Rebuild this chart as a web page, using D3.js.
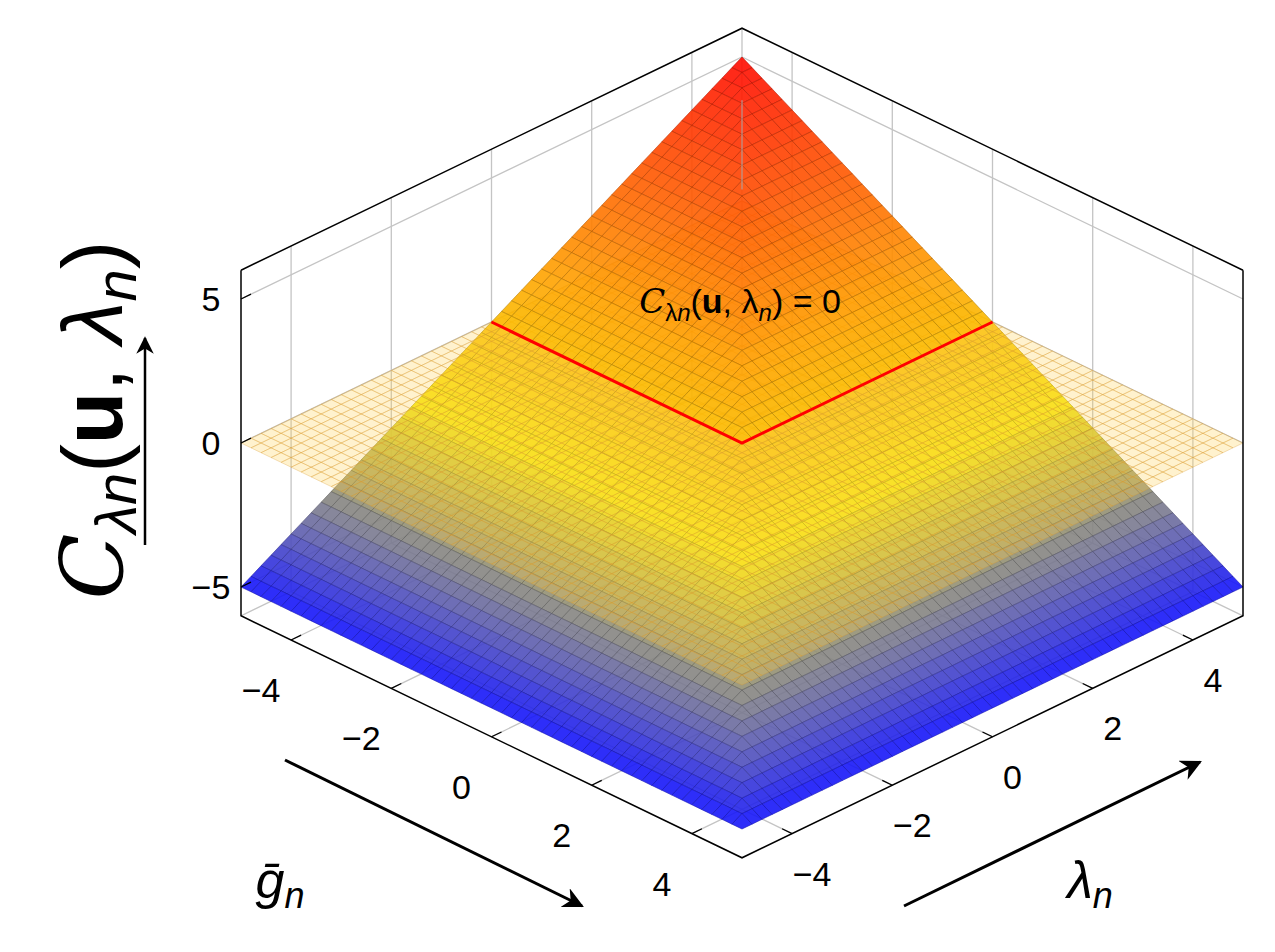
<!DOCTYPE html>
<html><head><meta charset="utf-8">
<script src="https://cdn.jsdelivr.net/npm/d3@7"></script>
<style>body{margin:0;background:#fff}text{font-family:"Liberation Sans",Arial,sans-serif}</style>
</head><body><svg id="c" width="1275" height="952"></svg>
<script>
// data
const gTicks = [-4, -2, 0, 2, 4]
const lamTicks = [-4, -2, 0, 2, 4]
const zTicks = [-5, 0, 5]
const colorStops = [-5, -3.5, -1.5, 1, 5]
const colorValues = ['#1010ff', '#7a7a90', '#f6e600', '#ffa000', '#ff0800']
const N = 50
const surf = (g, l) => Math.min(l, -g)

const svg = d3.select('#c')
const cx = 742, cy = 443
const sh = d3.scaleLinear().domain([0, 1]).range([0, 50.1])
const sv = d3.scaleLinear().domain([0, 1]).range([0, 24.2])
const sz = d3.scaleLinear().domain([-5, 5]).range([144, -144])
const P = (g, l, z) => [cx + sh(g + l), cy + sv(g - l) + sz(z)]
const color = d3.scaleLinear().domain(colorStops).range(colorValues)
const line = d3.line()

// back walls + floor
const walls = svg.append('g').attr('stroke', '#c4c4c4').attr('fill', 'none').attr('stroke-width', 1.3)
lamTicks.forEach(l => {
  walls.append('path').attr('d', line([P(-5, l, -6), P(-5, l, 6)]))
  walls.append('path').attr('d', line([P(-5, l, -6), P(5, l, -6)]))
})
gTicks.forEach(g => {
  walls.append('path').attr('d', line([P(g, 5, -6), P(g, 5, 6)]))
  walls.append('path').attr('d', line([P(g, -5, -6), P(g, 5, -6)]))
})
zTicks.forEach(z => {
  walls.append('path').attr('d', line([P(-5, -5, z), P(-5, 5, z), P(5, 5, z)]))
})
walls.append('path').attr('d', line([P(-5, 5, -6), P(-5, 5, 6)]))
walls.append('path').attr('d', line([P(-5, -5, -6), P(-5, 5, -6), P(5, 5, -6)]))

// quads: surface and z=0 plane, painter sorted
const step = 10 / N
const quads = []
for (let i = 0; i < N; i++) for (let j = 0; j < N; j++) {
  const g0 = -5 + i * step, l0 = -5 + j * step, g1 = g0 + step, l1 = l0 + step
  const gm = g0 + step / 2, lm = l0 + step / 2
  const zs = [surf(g0, l0), surf(g1, l0), surf(g1, l1), surf(g0, l1)]
  const zm = surf(gm, lm)
  quads.push({ pts: [P(g0, l0, zs[0]), P(g1, l0, zs[1]), P(g1, l1, zs[2]), P(g0, l1, zs[3])],
    d: 0.62 * (gm - lm) + 0.224 * zm, type: 's', z: zm })
  quads.push({ pts: [P(g0, l0, 0), P(g1, l0, 0), P(g1, l1, 0), P(g0, l1, 0)],
    d: 0.62 * (gm - lm) + (zm < 0 ? 0.001 : -0.001), type: 'p' })
}
quads.sort((a, b) => a.d - b.d)
svg.append('g').selectAll('path').data(quads).join('path')
  .attr('d', q => line(q.pts) + 'Z')
  .attr('fill', q => q.type === 's' ? color(q.z) : '#ffd050')
  .attr('fill-opacity', q => q.type === 's' ? 0.9 : 0.28)
  .attr('stroke', q => q.type === 's' ? d3.color(color(q.z)).darker(1) : '#d89a30')
  .attr('stroke-opacity', q => q.type === 's' ? 0.7 : 0.4)
  .attr('stroke-width', 0.8)

// red zero line
svg.append('path').attr('d', line([P(0, 5, 0), P(0, 0, 0), P(-5, 0, 0)]))
  .attr('stroke', '#ff0000').attr('stroke-width', 3).attr('fill', 'none')
svg.append('path').attr('d', line([P(-5, 5, 0.4), P(-5, 5, 3.5)]))
  .attr('stroke', '#aaa').attr('stroke-width', 1)

// box front edges
const box = svg.append('g').attr('stroke', '#000').attr('fill', 'none').attr('stroke-width', 1.5)
box.append('path').attr('d', line([P(-5, -5, 6), P(-5, 5, 6), P(5, 5, 6)]))
box.append('path').attr('d', line([P(-5, -5, 6), P(-5, -5, -6), P(5, -5, -6), P(5, 5, -6), P(5, 5, 6)]))

// ticks
const tk = svg.append('g').attr('stroke', '#000').attr('stroke-width', 1.2)
const lbl = svg.append('g').attr('font-size', 34).attr('text-anchor', 'middle').attr('fill', '#000')
const fmt = v => v < 0 ? '\u2212' + (-v) : '' + v
zTicks.forEach(z => {
  tk.append('path').attr('d', line([P(-5, -5, z), P(-5, -4.8, z)]))
  const p = P(-5, -5, z)
  lbl.append('text').attr('x', p[0] - 30).attr('y', p[1] + 12).text(fmt(z))
})
gTicks.forEach(g => {
  tk.append('path').attr('d', line([P(g, -5, -6), P(g, -4.8, -6)]))
  const p = P(g, -5, -6)
  lbl.append('text').attr('x', p[0] - 30).attr('y', p[1] + 62).text(fmt(g))
})
lamTicks.forEach(l => {
  tk.append('path').attr('d', line([P(5, l, -6), P(4.8, l, -6)]))
  const p = P(5, l, -6)
  lbl.append('text').attr('x', p[0] + 20).attr('y', p[1] + 52).text(fmt(l))
})

// axis arrows
svg.append('defs').append('marker').attr('id', 'ah').attr('viewBox', '0 0 10 10')
  .attr('refX', 9).attr('refY', 5).attr('markerWidth', 7).attr('markerHeight', 7).attr('orient', 'auto')
  .append('path').attr('d', 'M0,0L10,5L0,10L3,5Z').attr('fill', '#000')
const arrow = (a, b, w) => svg.append('path').attr('d', line([a, b])).attr('stroke', '#000')
  .attr('stroke-width', w).attr('marker-end', 'url(#ah)')
arrow([285, 760], [582, 906], 3)
arrow([904, 906], [1200, 762], 3)
arrow([145, 545], [145, 338], 2.5)

svg.append('text').attr('x', 280).attr('y', 898).attr('font-size', 52).attr('text-anchor', 'middle')
  .html('<tspan font-style="italic">g&#772;</tspan><tspan font-style="italic" font-size="36" dy="10">n</tspan>')
svg.append('text').attr('x', 1090).attr('y', 898).attr('font-size', 52).attr('text-anchor', 'middle')
  .html('<tspan font-style="italic">λ</tspan><tspan font-style="italic" font-size="36" dy="10">n</tspan>')
svg.append('text').attr('transform', 'translate(122,420) rotate(-90)').attr('font-size', 86).attr('text-anchor', 'middle')
  .html('<tspan font-style="italic" font-family="DejaVu Serif">C</tspan><tspan font-style="italic" font-size="58" dy="14">λn</tspan><tspan dy="-14">(</tspan><tspan font-weight="bold">u</tspan><tspan>, </tspan><tspan font-style="italic">λ</tspan><tspan font-style="italic" font-size="58" dy="14">n</tspan><tspan dy="-14">)</tspan>')
svg.append('text').attr('x', 740).attr('y', 313).attr('font-size', 34).attr('text-anchor', 'middle')
  .html('<tspan font-style="italic" font-family="DejaVu Serif">C</tspan><tspan font-size="24" dy="8">λ</tspan><tspan font-size="24" font-style="italic">n</tspan><tspan dy="-8">(</tspan><tspan font-weight="bold">u</tspan><tspan>, λ</tspan><tspan font-size="24" dy="8" font-style="italic">n</tspan><tspan dy="-8">) = 0</tspan>')
</script></body></html>
